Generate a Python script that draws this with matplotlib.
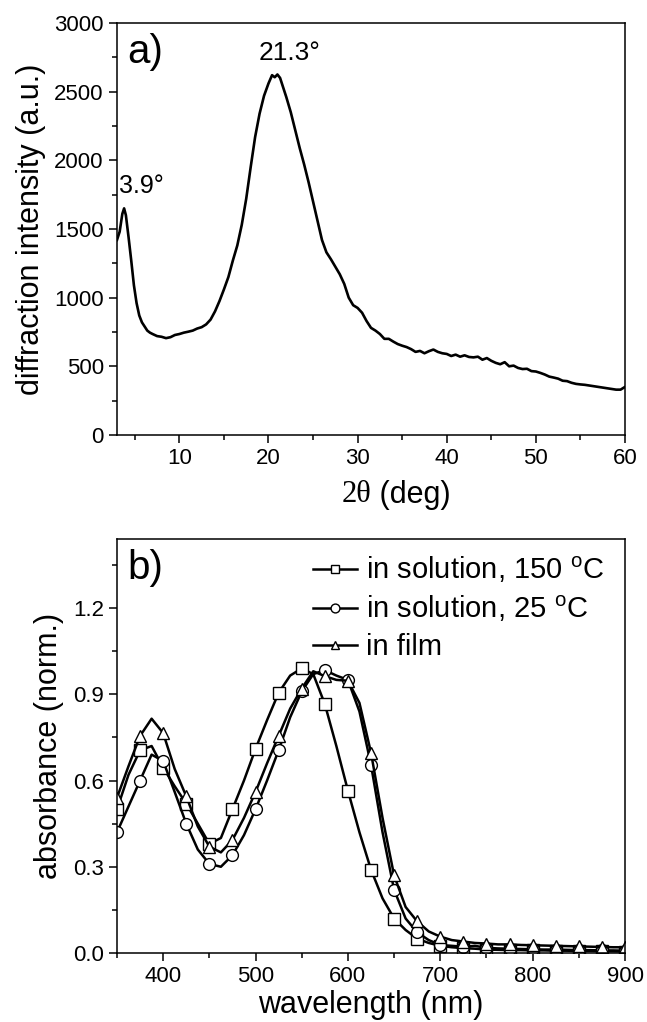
import matplotlib
matplotlib.use("Agg")
import matplotlib.pyplot as plt
from matplotlib.ticker import MultipleLocator

plt.rcParams['font.family'] = ['Liberation Sans', 'DejaVu Sans']
plt.rcParams['mathtext.fontset'] = 'custom'
plt.rcParams['mathtext.rm'] = 'Liberation Sans'

# (a) XRD pattern
two_theta = [3.0, 3.3, 3.6, 3.8, 4.0, 4.3, 4.6, 4.9, 5.2, 5.5, 5.8, 6.1, 6.4, 6.7,
             7.0, 7.5, 8.0, 8.5, 9.0, 9.5, 10.0, 10.5, 11.0, 11.5, 12.0, 12.5, 13.0,
             13.5, 14.0, 14.5, 15.0, 15.5, 16.0, 16.5, 17.0, 17.5, 18.0, 18.5, 19.0,
             19.5, 20.0, 20.4, 20.7, 21.0, 21.3, 21.6, 22.0, 22.5, 23.0, 23.5, 24.0,
             24.5, 25.0, 25.5, 26.0, 26.5, 27.0, 27.5, 28.0, 28.5, 29.0, 29.5, 30.0,
             30.5, 31.0, 31.5, 32.0, 32.5, 33.0, 33.5, 34.0, 34.5, 35.0, 35.5, 36.0,
             36.5, 37.0, 37.5, 38.0, 38.5, 39.0, 39.5, 40.0, 40.5, 41.0, 41.5, 42.0,
             42.5, 43.0, 43.5, 44.0, 44.5, 45.0, 45.5, 46.0, 46.5, 47.0, 47.5, 48.0,
             48.5, 49.0, 49.5, 50.0, 50.5, 51.0, 51.5, 52.0, 52.5, 53.0, 53.5, 54.0,
             54.5, 55.0, 55.5, 56.0, 56.5, 57.0, 57.5, 58.0, 58.5, 59.0, 59.5, 60.0]
intensity = [1420, 1480, 1610, 1650, 1600, 1440, 1270, 1090, 960, 870, 820, 790, 760, 745,
             735, 720, 715, 705, 712, 728, 735, 745, 752, 760, 775, 785, 805,
             840, 900, 975, 1060, 1150, 1270, 1380, 1530, 1720, 1950, 2170, 2340,
             2470, 2560, 2620, 2605, 2625, 2600, 2540, 2460, 2350, 2220, 2090, 1970,
             1840, 1700, 1560, 1420, 1330, 1280, 1225, 1170, 1100, 1000, 945, 925,
             890, 830, 780, 760, 735, 700, 700, 680, 662, 650, 640, 625,
             605, 612, 595, 610, 622, 605, 595, 590, 575, 585, 570, 580,
             568, 565, 570, 548, 560, 540, 525, 515, 530, 500, 505, 488,
             480, 482, 465, 462, 452, 440, 425, 418, 410, 395, 392, 380,
             372, 368, 365, 360, 355, 350, 345, 340, 335, 330, 330, 350]

# (b) UV-vis absorbance
wavelength = [350, 362.5, 375, 387.5, 400, 412.5, 425, 437.5, 450, 462.5, 475, 487.5,
              500, 512.5, 525, 537.5, 550, 562.5, 575, 587.5, 600, 612.5, 625, 637.5,
              650, 662.5, 675, 687.5, 700, 712.5, 725, 737.5, 750, 762.5, 775, 787.5,
              800, 812.5, 825, 837.5, 850, 862.5, 875, 887.5, 900]
abs_sol150 = [0.50, 0.62, 0.705, 0.72, 0.645, 0.58, 0.52, 0.45, 0.38, 0.40, 0.50, 0.60,
              0.71, 0.81, 0.905, 0.965, 0.99, 0.97, 0.866, 0.72, 0.565, 0.42, 0.29, 0.19,
              0.12, 0.08, 0.05, 0.035, 0.025, 0.02, 0.017, 0.015, 0.012, 0.011, 0.01, 0.01,
              0.009, 0.009, 0.008, 0.008, 0.007, 0.007, 0.006, 0.006, 0.005]
abs_sol25 = [0.42, 0.51, 0.60, 0.69, 0.668, 0.56, 0.45, 0.36, 0.31, 0.30, 0.34, 0.41,
             0.50, 0.60, 0.705, 0.82, 0.91, 0.97, 0.984, 0.965, 0.95, 0.84, 0.655, 0.42,
             0.22, 0.12, 0.072, 0.045, 0.028, 0.025, 0.022, 0.025, 0.018, 0.016, 0.015, 0.014,
             0.013, 0.012, 0.012, 0.011, 0.010, 0.010, 0.009, 0.009, 0.008]
abs_film = [0.54, 0.65, 0.755, 0.815, 0.765, 0.64, 0.545, 0.44, 0.37, 0.35, 0.393, 0.47,
            0.56, 0.66, 0.755, 0.85, 0.92, 0.98, 0.963, 0.95, 0.947, 0.87, 0.697, 0.47,
            0.27, 0.16, 0.11, 0.075, 0.057, 0.045, 0.04, 0.035, 0.033, 0.03, 0.03, 0.028,
            0.027, 0.026, 0.025, 0.024, 0.023, 0.022, 0.021, 0.02, 0.02]

fig = plt.figure(figsize=(6.47, 10.22), dpi=100)
ax1 = fig.add_axes([0.1808, 0.5744, 0.7852, 0.4031])
ax2 = fig.add_axes([0.1808, 0.0675, 0.7852, 0.4051])

for ax in (ax1, ax2):
    for s in ax.spines.values():
        s.set_linewidth(1.1)
    ax.tick_params(which='both', direction='out', top=False, right=False, width=1.1, labelsize=16)
    ax.tick_params(which='major', length=6)
    ax.tick_params(which='minor', length=3.5)

# top panel
ax1.plot(two_theta, intensity, color='black', lw=1.9)
ax1.set_xlim(3, 60)
ax1.set_ylim(0, 3000)
ax1.xaxis.set_major_locator(MultipleLocator(10))
ax1.xaxis.set_minor_locator(MultipleLocator(5))
ax1.yaxis.set_major_locator(MultipleLocator(500))
ax1.yaxis.set_minor_locator(MultipleLocator(250))
ax1.set_ylabel("diffraction intensity (a.u.)", fontsize=22, labelpad=6)
ax1.text(0.5, -0.145, "2\u03b8", transform=ax1.transAxes, ha='right', va='center',
         fontsize=22, family='Liberation Serif')
ax1.text(0.5, -0.145, " (deg)", transform=ax1.transAxes, ha='left', va='center', fontsize=22)
ax1.text(0.02, 0.975, "a)", transform=ax1.transAxes, ha='left', va='top', fontsize=29)
ax1.text(22.4, 2730, "21.3\u00b0", ha='center', va='baseline', fontsize=19)
ax1.text(5.7, 1765, "3.9\u00b0", ha='center', va='baseline', fontsize=18)

# bottom panel
mk = dict(color='black', lw=1.8, markersize=8.5, markerfacecolor='white',
          markeredgecolor='black', markeredgewidth=1.0, markevery=2)
ax2.plot(wavelength, abs_sol150, marker='s', label="in solution, 150 $^{\\rm o}$C", **mk)
ax2.plot(wavelength, abs_sol25, marker='o', label="in solution, 25 $^{\\rm o}$C", **mk)
ax2.plot(wavelength, abs_film, marker='^', label="in film", **mk)
ax2.set_xlim(350, 900)
ax2.set_ylim(0, 1.44)
ax2.xaxis.set_major_locator(MultipleLocator(100))
ax2.xaxis.set_minor_locator(MultipleLocator(50))
ax2.yaxis.set_major_locator(MultipleLocator(0.3))
ax2.yaxis.set_minor_locator(MultipleLocator(0.15))
ax2.yaxis.set_major_formatter(matplotlib.ticker.FormatStrFormatter('%.1f'))
ax2.set_xlabel("wavelength (nm)", fontsize=22, labelpad=2)
ax2.set_ylabel("absorbance (norm.)", fontsize=22, labelpad=6)
ax2.text(0.02, 0.975, "b)", transform=ax2.transAxes, ha='left', va='top', fontsize=29)
ax2.legend(loc='upper left', bbox_to_anchor=(0.346, 1.012), frameon=False, fontsize=21,
           handlelength=1.5, handletextpad=0.3, labelspacing=0.3, borderaxespad=0.3,
           markerscale=0.75)

fig.savefig("out.png", dpi=100)
